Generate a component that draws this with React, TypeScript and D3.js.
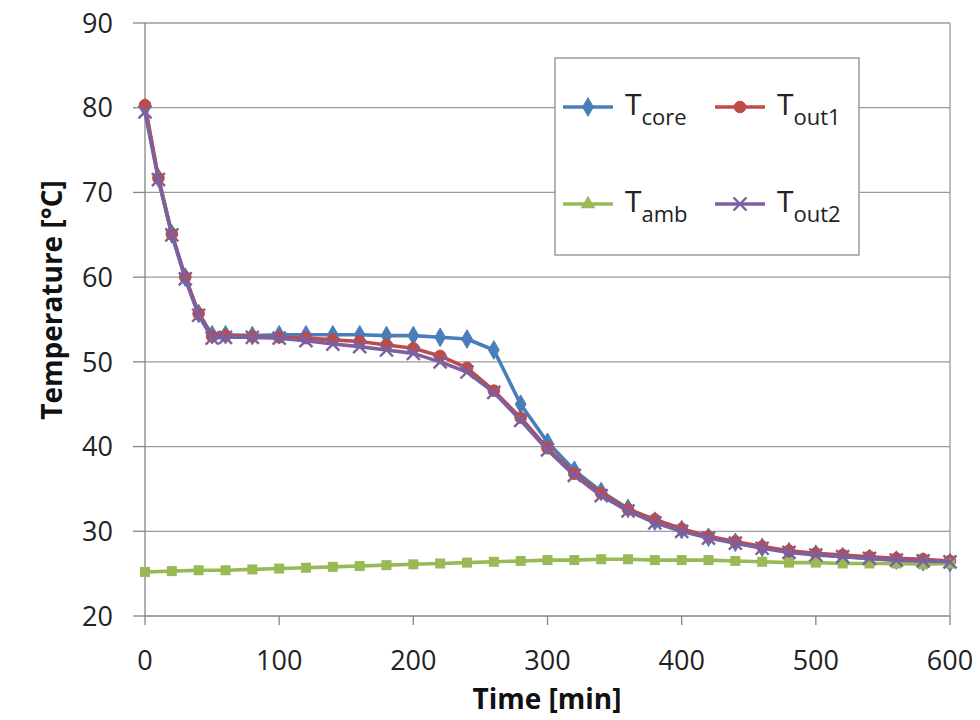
import React from "react";
import * as d3 from "d3";

const times = [0, 10, 20, 30, 40, 50, 60, 80, 100, 120, 140, 160, 180, 200, 220, 240, 260, 280, 300, 320, 340, 360, 380, 400, 420, 440, 460, 480, 500, 520, 540, 560, 580, 600];
const tCore = [80.0, 71.7, 65.1, 60.0, 55.7, 53.2, 53.2, 53.1, 53.2, 53.2, 53.2, 53.2, 53.1, 53.1, 52.9, 52.7, 51.4, 45.0, 40.5, 37.2, 34.7, 32.7, 31.2, 30.2, 29.3, 28.7, 28.1, 27.6, 27.3, 27.0, 26.8, 26.6, 26.4, 26.3];
const tOut1 = [80.3, 71.7, 65.1, 60.0, 55.7, 53.0, 53.1, 53.0, 52.9, 52.8, 52.6, 52.4, 52.0, 51.6, 50.7, 49.3, 46.6, 43.4, 39.8, 36.8, 34.5, 32.6, 31.4, 30.3, 29.4, 28.8, 28.2, 27.7, 27.4, 27.2, 27.0, 26.8, 26.7, 26.5];
const tOut2 = [79.5, 71.5, 65.0, 59.8, 55.5, 52.8, 52.9, 52.9, 52.8, 52.5, 52.1, 51.8, 51.4, 51.0, 50.0, 48.8, 46.4, 43.1, 39.6, 36.6, 34.2, 32.4, 31.0, 30.0, 29.2, 28.6, 28.0, 27.5, 27.2, 27.0, 26.8, 26.6, 26.5, 26.4];
const ambTimes = [0, 20, 40, 60, 80, 100, 120, 140, 160, 180, 200, 220, 240, 260, 280, 300, 320, 340, 360, 380, 400, 420, 440, 460, 480, 500, 520, 540, 560, 580, 600];
const tAmb = [25.2, 25.3, 25.4, 25.4, 25.5, 25.6, 25.7, 25.8, 25.9, 26.0, 26.1, 26.2, 26.3, 26.4, 26.5, 26.6, 26.6, 26.7, 26.7, 26.6, 26.6, 26.6, 26.5, 26.4, 26.3, 26.3, 26.2, 26.2, 26.2, 26.1, 26.2];
const xTicks = [0, 100, 200, 300, 400, 500, 600];
const yTicks = [20, 30, 40, 50, 60, 70, 80, 90];

const FONT = "'Open Sans', 'Liberation Sans', sans-serif";
const C_CORE = "#4a7ebb";
const C_OUT1 = "#be4b48";
const C_AMB = "#98b954";
const C_OUT2 = "#7d60a0";

type Pt = [number, number];

export default function App() {
  const W = 980, H = 720;
  const x = d3.scaleLinear().domain([0, 600]).range([145, 950]);
  const y = d3.scaleLinear().domain([20, 90]).range([616, 23]);
  const line = d3.line<Pt>().x(d => x(d[0])).y(d => y(d[1]));
  const zip = (ts: number[], vs: number[]): Pt[] => ts.map((t, i) => [t, vs[i]]);
  const core = zip(times, tCore);
  const out1 = zip(times, tOut1);
  const out2 = zip(times, tOut2);
  const amb = zip(ambTimes, tAmb);
  const diamond = d3.symbol().type(d3.symbolDiamond).size(100)() as string;
  const triangle = d3.symbol().type(d3.symbolTriangle).size(90)() as string;

  const [x0, x1] = x.range();
  const [yb, yt] = y.range();

  const marker = (kind: string, cx: number, cy: number, key: any) => {
    if (kind === "core") return <path key={key} d={diamond} transform={`translate(${cx},${cy})`} fill={C_CORE} stroke={C_CORE} />;
    if (kind === "out1") return <circle key={key} cx={cx} cy={cy} r={5.8} fill={C_OUT1} stroke={C_OUT1} />;
    if (kind === "amb") return <rect key={key} x={cx - 5} y={cy - 5} width={10} height={10} fill={C_AMB} />;
    if (kind === "ambTri") return <path key={key} d={triangle} transform={`translate(${cx},${cy})`} fill={C_AMB} />;
    return (
      <g key={key} stroke={C_OUT2} strokeWidth={2.4}>
        <line x1={cx - 6.5} y1={cy - 6.5} x2={cx + 6.5} y2={cy + 6.5} />
        <line x1={cx - 6.5} y1={cy + 6.5} x2={cx + 6.5} y2={cy - 6.5} />
      </g>
    );
  };

  const series = [
    { kind: "core", data: core, color: C_CORE },
    { kind: "out1", data: out1, color: C_OUT1 },
    { kind: "amb", data: amb, color: C_AMB },
    { kind: "out2", data: out2, color: C_OUT2 },
  ];

  const legendItems = [
    { kind: "core", color: C_CORE, sub: "core", lx: 563, ty: 115 },
    { kind: "out1", color: C_OUT1, sub: "out1", lx: 715, ty: 115 },
    { kind: "ambTri", color: C_AMB, sub: "amb", lx: 563, ty: 212 },
    { kind: "out2", color: C_OUT2, sub: "out2", lx: 715, ty: 212 },
  ];

  return (
    <svg width={W} height={H} style={{ position: "absolute", left: 0, top: 0, background: "#fff" }} fontFamily={FONT}>
      <rect x={0} y={0} width={W} height={H} fill="#fff" />
      {yTicks.map(t => (
        <g key={"gy" + t}>
          <line x1={x0} x2={x1} y1={y(t)} y2={y(t)} stroke={t === 20 ? "#868686" : "#9a9a9a"} strokeWidth={1.3} />
          <line x1={x0 - 12} x2={x0} y1={y(t)} y2={y(t)} stroke="#868686" strokeWidth={1.3} />
          <text x={113} y={y(t)} dy="0.36em" textAnchor="end" fontSize={27} fill="#222">{t}</text>
        </g>
      ))}
      <line x1={x0} x2={x0} y1={yt} y2={yb} stroke="#868686" strokeWidth={1.3} />
      <line x1={x1} x2={x1} y1={yt} y2={yb} stroke="#9a9a9a" strokeWidth={1.3} />
      {xTicks.map(t => (
        <g key={"gx" + t}>
          <line x1={x(t)} x2={x(t)} y1={yb} y2={yb + 9} stroke="#868686" strokeWidth={1.3} />
          <text x={x(t)} y={670} textAnchor="middle" fontSize={27} fill="#222">{t}</text>
        </g>
      ))}
      <text x={547} y={709} textAnchor="middle" fontSize={28} fontWeight="bold" fill="#111">Time [min]</text>
      <text transform={`translate(62,300) rotate(-90)`} textAnchor="middle" fontSize={28} fontWeight="bold" fill="#111">Temperature [°C]</text>

      {series.map(s => (
        <g key={s.kind}>
          <path d={line(s.data) as string} fill="none" stroke={s.color} strokeWidth={3.6} strokeLinejoin="round" />
          {s.data.map((d, i) => marker(s.kind, x(d[0]), y(d[1]), i))}
        </g>
      ))}

      <rect x={555} y={58} width={304} height={197} fill="#fff" stroke="#8c8c8c" strokeWidth={1.3} />
      {legendItems.map(it => (
        <g key={it.sub}>
          <line x1={it.lx} x2={it.lx + 50} y1={it.ty - 8} y2={it.ty - 8} stroke={it.color} strokeWidth={3.6} />
          {marker(it.kind, it.lx + 25, it.ty - 8, "m")}
          <text x={it.lx + 62} y={it.ty} fontSize={30} fill="#222">
            T<tspan fontSize={22} dy={10}>{it.sub}</tspan>
          </text>
        </g>
      ))}
    </svg>
  );
}
